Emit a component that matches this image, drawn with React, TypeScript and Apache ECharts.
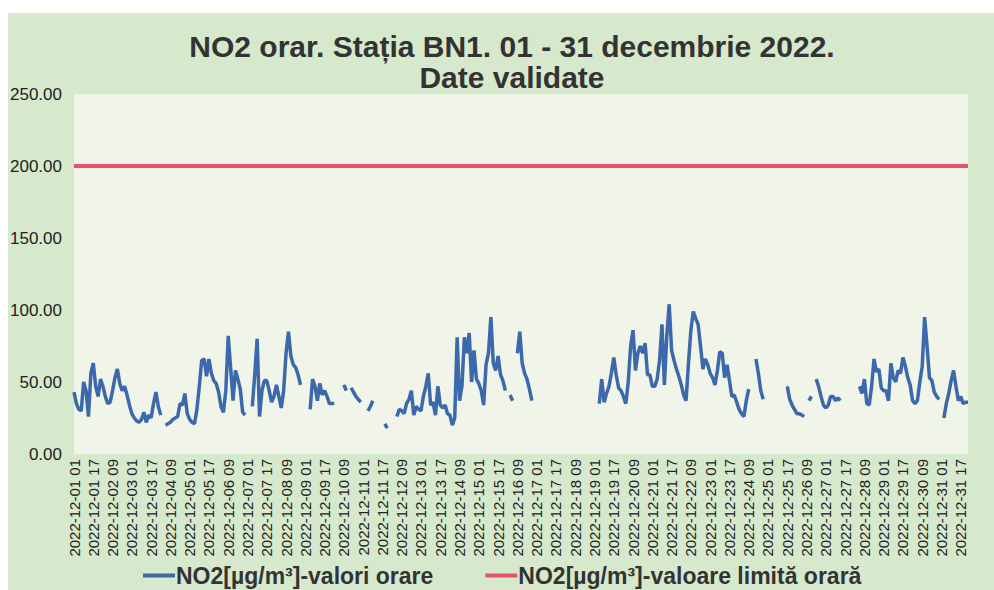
import React, { useEffect, useRef } from "react";
import * as echarts from "echarts";

// NO2 values, one value every 2 hours (12 per day), µg/m³; null = missing data
const no2Values: (number | null)[] = [
  // 01
  43, 35, 31, 30, 50, 44, 26, 56, 63, 47, 40, 52,
  // 02
  47, 40, 35, 36, 44, 53, 59, 49, 44, 47, 41, 34,
  // 03
  28, 25, 23, 22, 24, 29, 22, 27, 25, 35, 43, 33,
  // 04
  27, null, 20, 21, 22, 24, 25, 26, 35, 34, 42, 28,
  // 05
  24, 22, 21, 31, 47, 65, 66, 54, 66, 56, 51, 49,
  // 06
  43, 33, 29, 44, 82, 60, 37, 58, 52, 45, 29, 27,
  // 07
  null, null, 33, 55, 80, 26, 44, 51, 51, 44, 36, 40,
  // 08
  48, 40, 32, 44, 70, 85, 68, 62, 60, 55, 48, null,
  // 09
  null, null, 31, 52, 47, 37, 49, 41, 44, 40, 35, 35,
  // 10
  35, null, null, null, 48, 44, null, 46, 43, 40, 38, 36,
  // 11
  null, null, 30, 33, 37, null, null, null, null, 21, 18, null,
  // 12
  null, null, 26, 31, 30, 28, 35, 38, 44, 27, 33, 31,
  // 13
  30, 40, 47, 56, 34, 36, 27, 47, 34, 32, 34, 28,
  // 14
  27, 20, 25, 81, 37, 47, 81, 70, 84, 50, 72, 52,
  // 15
  49, 44, 34, 62, 70, 95, 63, 58, 68, 55, 51, 44,
  // 16
  null, 41, 37, null, 70, 85, 63, 56, 52, 45, 37, null,
  // 17
  null, null, null, null, null, null, null, null, null, null, null, null,
  // 18
  null, null, null, null, null, null, null, null, null, null, null, null,
  // 19
  null, null, 35, 52, 36, 42, 47, 56, 67, 55, 46, 44,
  // 20
  40, 35, 50, 75, 86, 58, 70, 75, 70, 77, 55, 55,
  // 21
  47, 47, 52, 65, 90, 48, 82, 104, 72, 65, 59, 54,
  // 22
  48, 41, 37, 63, 86, 99, 94, 90, 75, 59, 66, 62,
  // 23
  56, 53, 48, 58, 71, 70, 53, 62, 51, 40, 41, 36,
  // 24
  31, 28, 26, 37, 45, null, null, 66, 56, 44, 38, null,
  // 25
  null, null, null, null, null, null, null, null, 47, 38, 34, 31,
  // 26
  28, 28, 27, 26, null, 37, 40, null, 52, 47, 40, 34,
  // 27
  32, 34, 40, 40, 37, 39, 37, null, null, null, null, null,
  // 28
  null, null, 47, 42, 52, 35, 34, 47, 66, 57, 59, 46,
  // 29
  44, 44, 37, 63, 53, 50, 58, 56, 67, 61, 53, 48,
  // 30
  37, 35, 37, 50, 61, 95, 75, 53, 51, 43, 40, 38,
  // 31
  null, 25, 35, 42, 51, 58, 47, 37, 40, 35, 36, 36,
];

const limitValue = 200;
const days = 31;
const stepHours = 2;

const categories: string[] = [];
for (let d = 1; d <= days; d++) {
  for (let h = 1; h <= 24; h += stepHours) {
    categories.push(
      `2022-12-${String(d).padStart(2, "0")} ${String(h).padStart(2, "0")}`
    );
  }
}
const limitSeries = categories.map(() => limitValue);

const FONT = "'Liberation Sans', Arial, sans-serif";

export default function App() {
  const ref = useRef<HTMLDivElement>(null);
  useEffect(() => {
    document.body.style.margin = "0";
    const chart = echarts.init(ref.current!, undefined, { renderer: "svg" });
    chart.setOption({
      animation: false,
      backgroundColor: "#ffffff",
      textStyle: { fontFamily: FONT },
      graphic: [
        {
          type: "rect",
          z: -10,
          shape: { x: 8, y: 13, width: 986, height: 577 },
          style: { fill: "#d6e9cd" },
          silent: true,
        },
      ],
      title: {
        text: "NO2 orar. Stația BN1. 01 - 31 decembrie 2022.\nDate validate",
        left: 507,
        top: 26,
        textAlign: "center",
        textStyle: {
          fontFamily: FONT,
          fontSize: 30,
          fontWeight: "bold",
          color: "#333333",
          lineHeight: 31,
        },
      },
      legend: {
        top: 559,
        left: 138,
        itemGap: 52,
        itemWidth: 32,
        itemHeight: 4,
        icon: "rect",
        textStyle: {
          fontFamily: FONT,
          fontSize: 23,
          fontWeight: "bold",
          color: "#333333",
          padding: [0, 0, 0, -4],
        },
        data: [
          "NO2[µg/m³]-valori orare",
          "NO2[µg/m³]-valoare limită orară",
        ],
      },
      grid: {
        left: 74,
        top: 94,
        right: 26,
        bottom: 136,
        show: true,
        backgroundColor: "#f1f4e9",
        borderWidth: 0,
      },
      xAxis: {
        type: "category",
        boundaryGap: false,
        data: categories,
        axisLine: { show: false },
        axisTick: { show: false },
        splitLine: { show: false },
        axisLabel: {
          interval: 7,
          rotate: 90,
          fontSize: 15,
          color: "#222222",
          fontFamily: FONT,
          margin: 5,
        },
      },
      yAxis: {
        type: "value",
        min: 0,
        max: 250,
        interval: 50,
        axisLine: { show: false },
        axisTick: { show: false },
        splitLine: { show: false },
        axisLabel: {
          fontSize: 17,
          color: "#222222",
          fontFamily: FONT,
          margin: 12,
          formatter: (v: number) => v.toFixed(2),
        },
      },
      series: [
        {
          name: "NO2[µg/m³]-valori orare",
          type: "line",
          data: no2Values,
          showSymbol: false,
          symbol: "none",
          connectNulls: false,
          lineStyle: { color: "#3b69ab", width: 3.5 },
          itemStyle: { color: "#3b69ab" },
        },
        {
          name: "NO2[µg/m³]-valoare limită orară",
          type: "line",
          data: limitSeries,
          showSymbol: false,
          symbol: "none",
          lineStyle: { color: "#e6546b", width: 4 },
          itemStyle: { color: "#e6546b" },
        },
      ],
    });
    return () => chart.dispose();
  }, []);
  return <div ref={ref} style={{ width: 994, height: 590 }} />;
}
